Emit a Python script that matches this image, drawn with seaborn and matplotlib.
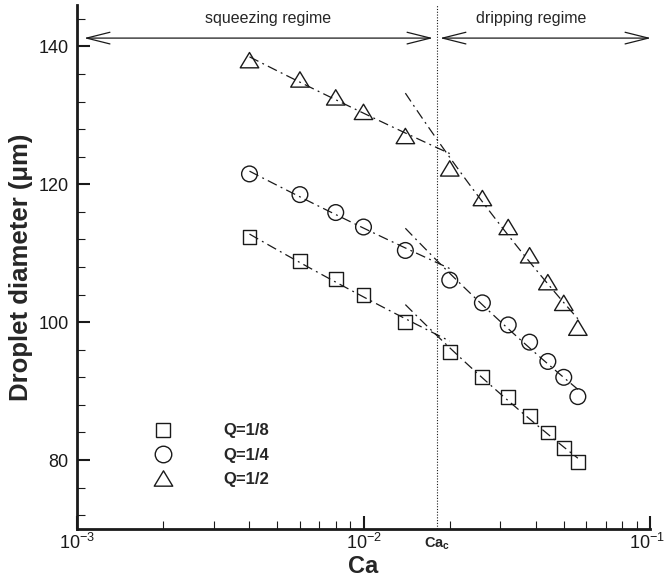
import numpy as np
import pandas as pd
import matplotlib
matplotlib.use('Agg')
import matplotlib.pyplot as plt
import seaborn as sns
from matplotlib.lines import Line2D
from matplotlib.path import Path
from matplotlib.ticker import MultipleLocator, LogLocator
from matplotlib.transforms import ScaledTranslation

# data
ca = [0.004, 0.006, 0.008, 0.010, 0.014, 0.020, 0.026, 0.032, 0.038, 0.044, 0.050, 0.056]
d_q18 = [112.3, 108.9, 106.3, 103.9, 100.0, 95.7, 92.0, 89.1, 86.4, 84.0, 81.8, 79.7]
d_q14 = [121.5, 118.5, 115.9, 113.8, 110.4, 106.1, 102.8, 99.6, 97.1, 94.3, 92.0, 89.2]
d_q12 = [138.0, 135.2, 132.6, 130.5, 127.0, 122.3, 118.0, 113.8, 109.7, 105.8, 102.8, 99.2]
series_labels = ['Q=1/8', 'Q=1/4', 'Q=1/2']
ca_crit = 0.018
x_major = [1e-3, 1e-2, 1e-1]

# range over which each trend line is drawn
squeeze_range = (0.004, 0.020)
drip_range = (0.014, 0.056)

sns.set_theme(style='white')
plt.rcParams['font.family'] = ['Liberation Sans', 'DejaVu Sans']
plt.rcParams['mathtext.fontset'] = 'custom'
plt.rcParams['mathtext.rm'] = 'Liberation Sans'
plt.rcParams['mathtext.bf'] = 'Liberation Sans:bold'
plt.rcParams['mathtext.it'] = 'Liberation Sans:italic'

tri = Path([(0, 0.83), (-1, -0.83), (1, -0.83), (0, 0.83)], closed=True)
markers = ['s', 'o', tri]
msizes = [10, 11.3, 13.3]   # points
leg_sizes = [10, 11.9, 13.3]

df = pd.DataFrame({'Ca': ca * 3,
                   'D': d_q18 + d_q14 + d_q12,
                   'Q': np.repeat(series_labels, len(ca))})

fig = plt.figure(figsize=(6.66, 5.79), dpi=100)
ax = fig.add_axes([77 / 666, 50 / 579, 573 / 666, 524 / 579])


def power_fit(x, y, x_range):
    k, b = np.polyfit(np.log10(x), np.log10(y), 1)
    xs = np.logspace(np.log10(x_range[0]), np.log10(x_range[1]), 60)
    return xs, 10 ** (b + k * np.log10(xs))


dashdot = (0, (8, 3.5, 1.5, 3.5))
for lab in series_labels:
    sub = df[df['Q'] == lab]
    sq = sub[sub['Ca'] < ca_crit]
    dr = sub[sub['Ca'] > ca_crit]
    xs, ys = power_fit(sq['Ca'], sq['D'], squeeze_range)
    ax.plot(xs, ys, color='k', lw=0.9, ls=dashdot)
    xs, ys = power_fit(dr['Ca'], dr['D'], drip_range)
    ax.plot(xs, ys, color='k', lw=0.9, ls=dashdot)

for lab, m, ms in zip(series_labels, markers, msizes):
    sub = df[df['Q'] == lab]
    sns.scatterplot(data=sub, x='Ca', y='D', marker=m, s=ms ** 2,
                    facecolor='none', edgecolor='k', linewidth=1.0,
                    ax=ax, legend=False, zorder=3)

ax.axvline(ca_crit, color='k', lw=0.8, ls=(0, (1, 1.5)))

ax.set_xscale('log')
ax.set_xlim(1e-3, 1e-1)
ax.set_ylim(70, 146)
ax.set_xticks(x_major)
ax.yaxis.set_major_locator(MultipleLocator(20))
ax.yaxis.set_minor_locator(MultipleLocator(4))
ax.xaxis.set_minor_locator(LogLocator(subs=range(2, 10)))

for s in ['top', 'right']:
    ax.spines[s].set_visible(False)
for s in ['left', 'bottom']:
    ax.spines[s].set_linewidth(2)
    ax.spines[s].set_color('k')

ax.tick_params(which='major', direction='in', length=9.5, width=1.5,
               labelsize=13, colors='k', top=False, right=False)
ax.tick_params(which='minor', direction='in', length=5.8, width=0.8,
               colors='k', top=False, right=False)
ax.tick_params(axis='x', which='both', bottom=True, pad=3)
ax.tick_params(axis='y', which='both', left=True, pad=6)

# keep the last x label inside the canvas
last = ax.xaxis.get_major_ticks()[-1].label1
last.set_transform(last.get_transform() + ScaledTranslation(-2.5 / 72, 0, fig.dpi_scale_trans))

ax.set_xlabel('Ca', fontsize=17, fontweight='bold', va='center')
ax.xaxis.set_label_coords(0.5, -0.071)
ax.set_ylabel('Droplet diameter (μm)', fontsize=18.5, fontweight='bold', va='center')
ax.yaxis.set_label_coords(-0.098, 0.5)

ax.text(ca_crit, -0.028, r'$\mathbf{Ca_c}$', transform=ax.get_xaxis_transform(),
        ha='center', va='center', fontsize=10.5)

# regime arrows
arrow = dict(arrowstyle='<->,head_length=1.4,head_width=0.35', lw=0.9,
             color='k', shrinkA=0, shrinkB=0)
ax.annotate('', xy=(0.01748, 141.2), xytext=(1.058e-3, 141.2), arrowprops=arrow,
            annotation_clip=False)
ax.annotate('', xy=(0.1008, 141.2), xytext=(0.01849, 141.2), arrowprops=arrow,
            annotation_clip=False)
ax.text(0.00464, 144.0, 'squeezing regime', ha='center', va='center', fontsize=11.5)
ax.text(0.0384, 144.0, 'dripping regime', ha='center', va='center', fontsize=11.5)

handles = [Line2D([], [], ls='none', marker=m, ms=ms, mfc='none', mec='k', mew=1.0)
           for m, ms in zip(markers, leg_sizes)]
ax.legend(handles, series_labels, loc='center left', bbox_to_anchor=(0.1356, 0.1412),
          frameon=False, handlelength=1.0, handletextpad=3.15, labelspacing=0.55,
          borderpad=0, borderaxespad=0, prop={'weight': 'bold', 'size': 12})

fig.savefig('out.png', dpi=100)
